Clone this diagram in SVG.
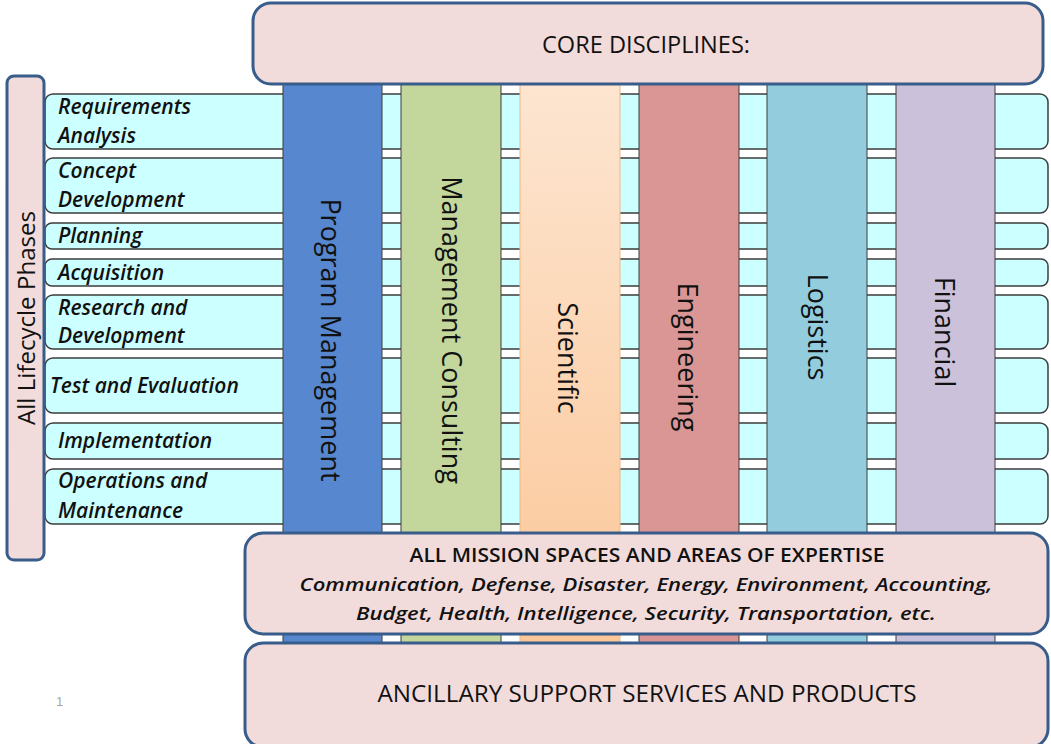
<svg xmlns="http://www.w3.org/2000/svg" width="1051" height="744" viewBox="0 0 1051 744">
<defs>
<linearGradient id="sci" x1="0" y1="0" x2="0" y2="1">
<stop offset="0" stop-color="#fde6d2"/>
<stop offset="1" stop-color="#fbc493"/>
</linearGradient>
<style>
.row{fill:#ccffff;stroke:#3d3d3d;stroke-width:1.5}
.col{stroke:#3d3d3d;stroke-width:1}
.box{fill:#f2dcdb;stroke:#385d8a;stroke-width:3}
.lbl{font-family:"Open Sans","Noto Sans",sans-serif;font-style:italic;font-weight:600;font-size:21px;fill:#111}
.coltxt{font-family:"Open Sans","Noto Sans",sans-serif;font-size:27px;font-weight:500;fill:#111;text-anchor:middle}
.head{font-family:"Open Sans","Lato",sans-serif;fill:#111;text-anchor:middle}
.h5{font-weight:500}
.h6{font-weight:600}
.it{font-style:italic;font-weight:600}
</style>
</defs>
<rect width="1051" height="744" fill="#ffffff"/>

<g id="rows">
<rect class="row" x="45" y="94" width="1003" height="55" rx="8"/>
<rect class="row" x="45" y="158" width="1003" height="55" rx="8"/>
<rect class="row" x="45" y="223" width="1003" height="26" rx="7"/>
<rect class="row" x="45" y="259" width="1003" height="27" rx="7"/>
<rect class="row" x="45" y="295" width="1003" height="54" rx="8"/>
<rect class="row" x="45" y="358" width="1003" height="55" rx="8"/>
<rect class="row" x="45" y="423" width="1003" height="36" rx="8"/>
<rect class="row" x="45" y="469" width="1003" height="55" rx="8"/>
</g>

<g id="col-program-management">
<rect class="col" x="283" y="70" width="99" height="630" fill="#5687cf"/>
<text class="coltxt" transform="translate(321,340) rotate(90)">Program Management</text>
</g>
<g id="col-management-consulting">
<rect class="col" x="401" y="70" width="100" height="630" fill="#c3d69b"/>
<text class="coltxt" transform="translate(442,330) rotate(90)">Management Consulting</text>
</g>
<g id="col-scientific">
<rect x="520" y="70" width="100" height="630" fill="url(#sci)" stroke="#f0b884" stroke-width="1"/>
<text class="coltxt" transform="translate(558,358) rotate(90)">Scientific</text>
</g>
<g id="col-engineering">
<rect class="col" x="639" y="70" width="100" height="630" fill="#d99694"/>
<text class="coltxt" transform="translate(678,357) rotate(90)">Engineering</text>
</g>
<g id="col-logistics">
<rect class="col" x="767" y="70" width="100" height="630" fill="#93cddd"/>
<text class="coltxt" transform="translate(808,327) rotate(90)">Logistics</text>
</g>
<g id="col-financial">
<rect class="col" x="896" y="70" width="99" height="630" fill="#ccc1da"/>
<text class="coltxt" transform="translate(935,332) rotate(90)">Financial</text>
</g>

<g id="phase-labels">
<text class="lbl" x="58" y="114">Requirements</text>
<text class="lbl" x="58" y="143">Analysis</text>
<text class="lbl" x="58" y="178">Concept</text>
<text class="lbl" x="58" y="207">Development</text>
<text class="lbl" x="58" y="243">Planning</text>
<text class="lbl" x="58" y="280">Acquisition</text>
<text class="lbl" x="58" y="315">Research and</text>
<text class="lbl" x="58" y="343">Development</text>
<text class="lbl" x="50" y="393">Test and Evaluation</text>
<text class="lbl" x="58" y="448">Implementation</text>
<text class="lbl" x="58" y="488">Operations and</text>
<text class="lbl" x="58" y="518">Maintenance</text>
</g>

<g id="core-disciplines">
<rect class="box" x="253" y="3" width="790" height="81" rx="18"/>
<text class="head h5" x="646" y="53" font-size="23" textLength="208" lengthAdjust="spacingAndGlyphs">CORE DISCIPLINES:</text>
</g>

<g id="lifecycle-phases">
<rect class="box" x="7" y="76" width="37" height="484" rx="7" stroke-width="2.5"/>
<text transform="translate(35,318) rotate(-90)" font-family="Open Sans, Noto Sans, sans-serif" font-size="23" font-weight="500" fill="#111" text-anchor="middle" textLength="214" lengthAdjust="spacingAndGlyphs">All Lifecycle Phases</text>
</g>

<g id="mission-spaces">
<rect class="box" x="245" y="533" width="803" height="101" rx="18"/>
<text class="head h6" x="647" y="562" font-size="19" textLength="475" lengthAdjust="spacingAndGlyphs">ALL MISSION SPACES AND AREAS OF EXPERTISE</text>
<text class="head it" x="646" y="591" font-size="18" textLength="693" lengthAdjust="spacingAndGlyphs">Communication, Defense, Disaster, Energy, Environment, Accounting,</text>
<text class="head it" x="646" y="620" font-size="18" textLength="580" lengthAdjust="spacingAndGlyphs">Budget, Health, Intelligence, Security, Transportation, etc.</text>
</g>

<g id="ancillary">
<rect class="box" x="245" y="643" width="803" height="104" rx="18"/>
<text class="head h5" x="647" y="702" font-size="23" textLength="539" lengthAdjust="spacingAndGlyphs">ANCILLARY SUPPORT SERVICES AND PRODUCTS</text>
</g>

<g id="connectors"></g>

<text x="56" y="706" font-family="Liberation Sans, sans-serif" font-size="13" fill="#a6a6a6">1</text>
</svg>
